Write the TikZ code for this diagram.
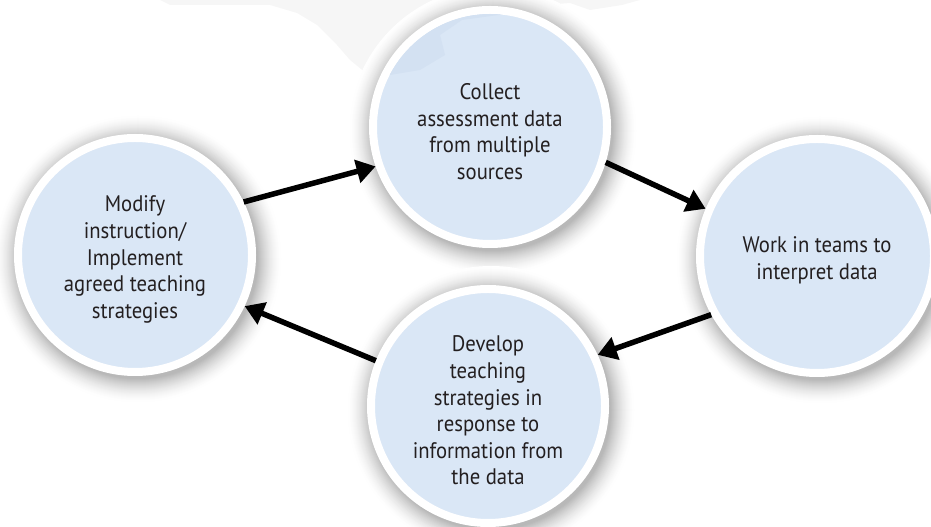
\documentclass[tikz,border=0pt]{standalone}
\usepackage{fontspec}
\setmainfont{PT Sans}[FakeStretch=0.92]
\usetikzlibrary{arrows.meta}

\definecolor{bubble}{RGB}{218,231,246}
\definecolor{bubblemap}{RGB}{211,225,242}
\definecolor{mapgray}{RGB}{246,246,246}
\definecolor{ink}{RGB}{35,31,32}

% extra room above the first line, setting each label a touch lower
\newcommand\topgap{\rule{0pt}{25pt}}

% faint world-map silhouette along the top edge
\newcommand\worldoutline{%
  (160,527) -- (170,522) -- (270,522) -- (297,514) -- (317,502) --
  (337,482) -- (350,467) -- (372,449) -- (420,457) -- (445,472) --
  (440,492) -- (462,507) -- (520,515) -- (545,522) -- (570,524) --
  (590,517) -- (603,519) -- (622,522) -- (640,527) -- cycle}

\tikzset{
  stage/.style={circle, fill=bubble, draw=white, line width=8pt,
    minimum size=234pt, inner sep=0pt, outer sep=4pt, align=center,
    text=ink, font=\fontsize{22.5}{26.6}\selectfont},
  flow/.style={line width=5.5pt, draw=black,
    -{Triangle[length=19pt,width=23pt]}},
}

\begin{document}
\begin{tikzpicture}[x=1pt,y=1pt]
\useasboundingbox (0,0) rectangle (931,527);

% background map
\fill[mapgray] \worldoutline;

% circle centres
\coordinate (cL) at (135,272);
\coordinate (cT) at (490,400);
\coordinate (cR) at (817,271);
\coordinate (cB) at (488,121);

% soft drop shadows, built from stacked discs getting darker inwards
\foreach \c in {cL,cT,cR,cB}
  \foreach \i in {0,...,24} {
    \pgfmathsetmacro\rad{144-\i}
    \pgfmathsetmacro\shade{28*(\i/24)^1.6}
    \fill[black!\shade, shift={(\c)}] (3,-4) circle[radius=\rad];
  }

% stages of the cycle
\node[stage] (T) at (cT) {};
\node[stage] (R) at (cR) {\topgap Work in teams to\\interpret data};
\node[stage] (B) at (cB) {\topgap Develop\\teaching\\strategies in\\response to\\information from\\the data};
\node[stage] (L) at (cL) {\topgap Modify\\instruction/\\Implement\\agreed teaching\\strategies};

% map showing through the top circle, then its label
\begin{scope}
  \clip (cT) circle[radius=113];
  \fill[bubblemap] \worldoutline;
\end{scope}
\node[stage, fill=none, draw=none] at (cT) {\topgap Collect\\assessment data\\from multiple\\sources};

% cycle arrows
\draw[flow] (L.26) -- (T.199);
\draw[flow] (T.-17) -- (R.157);
\draw[flow] (R.209) -- (B.25);
\draw[flow] (B.158) -- (L.-25);
\end{tikzpicture}
\end{document}
